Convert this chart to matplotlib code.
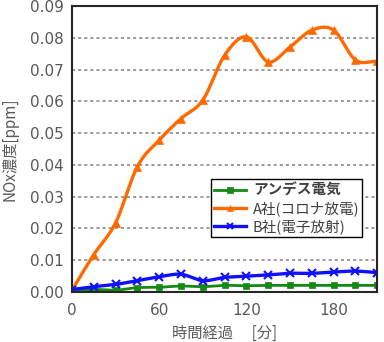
import numpy as np
import matplotlib.pyplot as plt

plt.rcParams['font.family'] = ['Noto Sans CJK JP', 'DejaVu Sans']

# data
minutes = [0, 15, 30, 45, 60, 75, 90, 105, 120, 135, 150, 165, 180, 195, 210]
andes = [0.000, 0.0008, 0.0006, 0.0014, 0.0015, 0.0019, 0.0017, 0.0021,
         0.0020, 0.0021, 0.0021, 0.0021, 0.0021, 0.0021, 0.0021]
company_a = [0.0006, 0.0118, 0.0218, 0.0395, 0.0478, 0.0546, 0.0604, 0.0745,
             0.0803, 0.0724, 0.0771, 0.0824, 0.0824, 0.0730, 0.0726]
company_b = [0.0008, 0.0017, 0.0024, 0.0036, 0.0048, 0.0056, 0.0036, 0.0046,
             0.0050, 0.0054, 0.0059, 0.0059, 0.0063, 0.0066, 0.0061]
labels = ['アンデス電気', 'A社(コロナ放電)', 'B社(電子放射)']


def smooth(x, y, n=20):
    # Catmull-Rom curve through the points, like a smoothed line in Excel
    x = np.asarray(x, float)
    y = np.asarray(y, float)
    px = np.concatenate([[2 * x[0] - x[1]], x, [2 * x[-1] - x[-2]]])
    py = np.concatenate([[2 * y[0] - y[1]], y, [2 * y[-1] - y[-2]]])
    xs, ys = [], []
    t = np.linspace(0, 1, n, endpoint=False)
    for i in range(1, len(px) - 2):
        for p, out in ((px, xs), (py, ys)):
            p0, p1, p2, p3 = p[i - 1], p[i], p[i + 1], p[i + 2]
            out.extend(0.5 * (2 * p1 + (-p0 + p2) * t
                              + (2 * p0 - 5 * p1 + 4 * p2 - p3) * t ** 2
                              + (-p0 + 3 * p1 - 3 * p2 + p3) * t ** 3))
    xs.append(x[-1])
    ys.append(y[-1])
    return xs, ys


fig = plt.figure(figsize=(3.84, 3.42), dpi=100)
ax = fig.add_axes([0.1875, 0.146, 0.795, 0.8365])

series = [
    (andes, '#138a13', 's', 2.0, 5),
    (company_a, '#ff6a00', '^', 2.4, 6),
    (company_b, '#1010ff', 'x', 2.4, 6),
]
for (vals, color, mk, lw, ms), lab in zip(series, labels):
    sx, sy = smooth(minutes, vals)
    ax.plot(sx, sy, color=color, lw=lw, solid_capstyle='round')
    ax.plot(minutes, vals, linestyle='none', marker=mk, color=color,
            markersize=ms, markeredgewidth=1.5 if mk == 'x' else 0.5)
    ax.plot([], [], color=color, lw=lw, marker=mk, markersize=ms - 1,
            markeredgewidth=1.5 if mk == 'x' else 0.5, label=lab)

ax.set_xlim(0, 210)
ax.set_ylim(0, 0.09)
ax.set_xticks([0, 60, 120, 180])
ax.set_yticks(np.arange(0, 0.0901, 0.01))
ax.yaxis.set_major_formatter(plt.FormatStrFormatter('%.2f'))
ax.tick_params(length=0, labelsize=11, colors='#595959')
ax.tick_params(axis='y', pad=6)
ax.tick_params(axis='x', pad=8)
for lbl in ax.get_xticklabels() + ax.get_yticklabels():
    lbl.set_family('DejaVu Sans')
ax.grid(axis='y', color='#808080', linestyle=(0, (2, 2)), lw=1.1)
ax.set_axisbelow(True)
for s in ax.spines.values():
    s.set_color('#262626')
    s.set_linewidth(1.5)

ax.set_xlabel('時間経過　 [分]', fontsize=11, color='#595959', labelpad=5)
ax.set_ylabel('NOx濃度[ppm]', fontsize=11, color='#595959', labelpad=8)

leg = ax.legend(loc='lower right', bbox_to_anchor=(0.975, 0.168), fontsize=10.5,
                frameon=True, fancybox=False, edgecolor='black',
                handlelength=2.2, handletextpad=0.45, borderpad=0.2,
                labelspacing=0.2, framealpha=1)
leg.get_frame().set_linewidth(1.0)
for txt in leg.get_texts():
    txt.set_color('#404040')
leg.get_texts()[0].set_fontweight('bold')

fig.savefig('out.png', dpi=100)
